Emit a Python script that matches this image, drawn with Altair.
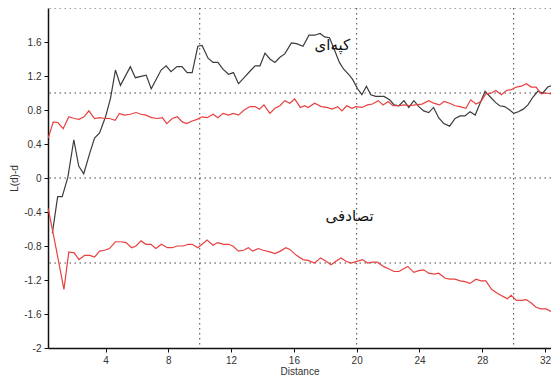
import altair as alt
import pandas as pd

# Observed L(d)-d (black)
obs_x = [0.61, 0.95, 1.24, 1.60, 1.98, 2.29, 2.61, 2.99, 3.30, 3.62, 4.00, 4.32, 4.63, 4.95, 5.58,
         5.90, 6.59, 6.91, 7.54, 7.86, 8.17, 8.55, 8.87, 9.20, 9.52, 9.88, 10.15, 10.53, 10.85,
         11.16, 11.48, 11.84, 12.15, 12.47, 12.83, 13.17, 13.53, 13.84, 14.16, 14.47, 14.79,
         15.11, 15.42, 15.84, 16.16, 16.58, 16.96, 17.32, 17.67, 17.95, 18.27, 18.58, 18.90,
         19.17, 19.53, 19.74, 20.06, 20.33, 20.62, 20.90, 21.21, 21.74, 22.10, 22.39, 22.69,
         23.01, 23.32, 23.64, 23.96, 24.27, 24.59, 24.90, 25.22, 25.55, 25.92, 26.27, 26.59,
         26.90, 27.22, 27.55, 27.86, 28.18, 28.53, 28.84, 29.11, 29.43, 29.75, 30.01, 30.30,
         30.61, 30.91, 31.22, 31.54, 31.86, 32.17, 32.49, 32.76]
obs_y = [-0.65, -0.22, -0.22, 0.01, 0.45, 0.14, 0.05, 0.29, 0.47, 0.53, 0.72, 0.94, 1.27, 1.09, 1.31,
         1.18, 1.21, 1.05, 1.27, 1.32, 1.25, 1.31, 1.31, 1.24, 1.24, 1.55, 1.56, 1.41, 1.36,
         1.36, 1.28, 1.22, 1.24, 1.11, 1.18, 1.25, 1.32, 1.32, 1.47, 1.40, 1.36,
         1.42, 1.46, 1.59, 1.58, 1.55, 1.68, 1.68, 1.70, 1.66, 1.65, 1.51, 1.36,
         1.28, 1.21, 1.16, 1.05, 0.98, 1.08, 0.98, 0.96, 0.96, 0.92, 0.86, 0.85,
         0.91, 0.83, 0.91, 0.84, 0.79, 0.77, 0.83, 0.71, 0.64, 0.61, 0.70, 0.73,
         0.73, 0.78, 0.74, 0.88, 1.02, 0.95, 0.89, 0.85, 0.84, 0.80, 0.76, 0.78,
         0.81, 0.86, 0.95, 1.02, 1.00, 1.07, 1.09, 1.09]

# Upper envelope (red)
up_x = [0.35, 0.67, 0.98, 1.30, 1.66, 2.00, 2.31, 2.63, 2.94, 3.30, 3.62, 3.94, 4.25, 4.61, 4.88,
        5.20, 5.58, 5.94, 6.26, 6.57, 6.93, 7.31, 7.62, 7.90, 8.25, 8.57, 8.89, 9.16, 9.52, 9.83,
        10.15, 10.47, 10.85, 11.16, 11.48, 11.84, 12.15, 12.47, 12.83, 13.21, 13.53, 13.80, 14.09,
        14.47, 14.79, 15.11, 15.42, 15.74, 16.05, 16.41, 16.69, 16.90, 17.32, 17.74, 18.10, 18.43,
        18.79, 19.06, 19.36, 19.70, 19.95, 20.33, 20.69, 21.00, 21.38, 21.68, 22.01, 22.31, 22.69,
        23.01, 23.36, 23.74, 24.16, 24.59, 24.90, 25.28, 25.57, 25.92, 26.27, 26.59, 26.96, 27.26,
        27.60, 27.91, 28.23, 28.59, 28.86, 29.22, 29.54, 29.85, 30.17, 30.49, 30.80, 31.12, 31.43,
        31.75, 32.07, 32.38, 32.70]
up_y = [0.47, 0.66, 0.65, 0.58, 0.72, 0.70, 0.69, 0.72, 0.79, 0.70, 0.71, 0.70, 0.70, 0.68, 0.76,
        0.74, 0.75, 0.77, 0.75, 0.74, 0.71, 0.70, 0.71, 0.64, 0.70, 0.72, 0.66, 0.64, 0.67, 0.69,
        0.72, 0.71, 0.75, 0.71, 0.76, 0.74, 0.76, 0.74, 0.80, 0.84, 0.84, 0.81, 0.86,
        0.76, 0.82, 0.85, 0.91, 0.88, 0.93, 0.83, 0.85, 0.83, 0.88, 0.84, 0.83, 0.81,
        0.84, 0.79, 0.85, 0.82, 0.84, 0.83, 0.86, 0.87, 0.91, 0.86, 0.90, 0.85, 0.85,
        0.86, 0.85, 0.86, 0.87, 0.91, 0.88, 0.86, 0.90, 0.88, 0.85, 0.84, 0.82, 0.92,
        0.87, 0.90, 0.99, 1.00, 1.03, 0.98, 1.03, 1.04, 1.07, 1.08, 1.11, 1.07, 1.07,
        0.99, 1.00, 0.99, 0.99]

# Lower envelope (red)
lo_x = [0.35, 0.84, 1.35, 1.66, 2.00, 2.31, 2.67, 2.99, 3.30, 3.62, 3.94, 4.25, 4.63, 4.95, 5.31,
        5.66, 5.94, 6.26, 6.57, 6.89, 7.20, 7.56, 7.94, 8.25, 8.57, 8.95, 9.27, 9.52, 9.88, 10.21,
        10.47, 10.85, 11.14, 11.52, 11.84, 12.11, 12.47, 12.79, 13.10, 13.37, 13.73, 14.05, 14.47,
        14.79, 15.14, 15.49, 15.74, 16.16, 16.58, 16.90, 17.32, 17.70, 18.05, 18.37, 18.68, 19.00,
        19.32, 19.63, 20.01, 20.37, 20.69, 21.00, 21.32, 21.70, 22.06, 22.38, 22.69, 22.96, 23.26,
        23.64, 23.96, 24.27, 24.59, 24.94, 25.22, 25.64, 25.95, 26.27, 26.59, 26.90, 27.22, 27.60,
        27.91, 28.23, 28.59, 28.91, 29.29, 29.60, 29.85, 30.17, 30.49, 30.80, 31.12, 31.43, 31.75,
        32.07, 32.38, 32.59]
lo_y = [-0.36, -0.82, -1.31, -0.87, -0.88, -0.96, -0.91, -0.91, -0.93, -0.86, -0.85, -0.83, -0.75,
        -0.75, -0.76, -0.82, -0.80, -0.74, -0.78, -0.78, -0.83, -0.78, -0.82, -0.82, -0.80, -0.80,
        -0.78, -0.78, -0.82, -0.77, -0.73, -0.79, -0.76, -0.78, -0.78, -0.80, -0.86, -0.85, -0.82,
        -0.86, -0.83, -0.85, -0.87, -0.89, -0.86, -0.82, -0.84, -0.91, -0.96, -0.97, -1.00, -0.94,
        -0.98, -1.02, -0.98, -0.94, -0.98, -1.00, -0.98, -0.96, -1.00, -0.99, -0.99, -1.04, -1.07,
        -1.10, -1.10, -1.07, -1.04, -1.11, -1.09, -1.08, -1.12, -1.13, -1.12, -1.18, -1.19, -1.19,
        -1.21, -1.22, -1.24, -1.19, -1.21, -1.21, -1.31, -1.35, -1.39, -1.42, -1.38, -1.44, -1.44,
        -1.43, -1.47, -1.52, -1.54, -1.54, -1.57, -1.62]

x_ticks = [4, 8, 12, 16, 20, 24, 28, 32]
y_ticks = [-2, -1.6, -1.2, -0.8, -0.4, 0, 0.4, 0.8, 1.2, 1.6]
x_grid = [10, 20, 30]
y_grid = [-1, 0, 1, 2]

label_text = ["کپه\u200cای", "تصادفی"]
label_x = [18.45, 19.55]
label_y = [1.57, -0.45]

rows = []
for name, xs, ys in [("obs", obs_x, obs_y), ("upper", up_x, up_y), ("lower", lo_x, lo_y)]:
    for a, b in zip(xs, ys):
        rows.append({"series": name, "d": a, "v": b})
df = pd.DataFrame(rows)

xscale = alt.Scale(domain=[0.334, 32.38], nice=False, zero=False)
yscale = alt.Scale(domain=[-2, 2], nice=False, zero=False)
xaxis = alt.Axis(values=x_ticks, title="Distance", grid=False,
                 labelPadding=3, titlePadding=1, labelOverlap=False)
yaxis = alt.Axis(values=y_ticks, title="L(d)-d", grid=False, labelOverlap=False,
                 labelPadding=3, labelExpr="toString(datum.value)")

grid_style = dict(color="#444444", strokeDash=[1.5, 3.5], strokeWidth=1)

hgrid = alt.Chart(pd.DataFrame({"g": y_grid})).mark_rule(**grid_style).encode(
    y=alt.Y("g:Q", scale=yscale, axis=yaxis)
)
vgrid = alt.Chart(pd.DataFrame({"g": x_grid})).mark_rule(**grid_style).encode(
    x=alt.X("g:Q", scale=xscale, axis=xaxis)
)

lines = alt.Chart(df).mark_line(clip=True, strokeWidth=1.2).encode(
    x=alt.X("d:Q", scale=xscale, axis=xaxis),
    y=alt.Y("v:Q", scale=yscale, axis=yaxis),
    color=alt.Color("series:N",
                    scale=alt.Scale(domain=["obs", "upper", "lower"],
                                    range=["#3c3c3c", "#e8403f", "#e8403f"]),
                    legend=None),
    detail="series:N",
)

labels = alt.Chart(pd.DataFrame({"t": label_text, "x": label_x, "y": label_y})).mark_text(
    font="DejaVu Sans", fontSize=15, color="#111111"
).encode(
    x=alt.X("x:Q", scale=xscale, axis=xaxis),
    y=alt.Y("y:Q", scale=yscale, axis=yaxis),
    text="t:N",
)

chart = alt.layer(hgrid, vgrid, lines, labels).properties(
    width=503, height=340,
    autosize=alt.AutoSizeParams(type="none"),
    padding={"left": 40, "top": 0, "right": 0, "bottom": 28},
).configure_view(stroke=None).configure_axis(
    domainColor="#111111", domainWidth=1.5, tickColor="#111111", tickSize=4,
    labelFont="Liberation Sans", labelFontSize=10, labelColor="#333333",
    titleFont="Liberation Sans", titleFontSize=10, titleFontWeight="normal",
    titleColor="#333333", labelOverlap=False,
)

chart.save("out.html", embed_options={"renderer": "svg", "actions": False})
